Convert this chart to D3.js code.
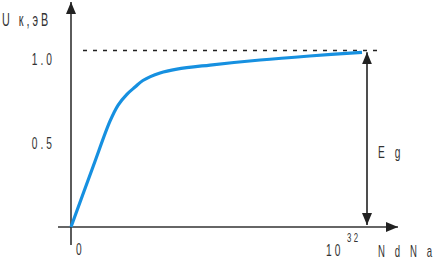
<!DOCTYPE html>
<html lang="ru">
<head>
<meta charset="UTF-8" />
<title>U к(N)</title>
<script src="https://d3js.org/d3.v7.min.js"></script>
<style>
  body { margin: 0; background: #fff; }
  svg text { font-family: "Liberation Sans", Arial, sans-serif; fill: #333; }
</style>
</head>
<body>
<svg id="chart" width="435" height="261"></svg>
<script>
// doping level, in units of 10^32
let dopingN = [0, 0.076, 0.134, 0.162, 0.192, 0.22, 0.247, 0.306, 0.364, 0.478, 0.65, 0.82, 1.0];
// contact potential, eV
let contactU = [0, 0.36, 0.63, 0.726, 0.79, 0.833, 0.872, 0.917, 0.94, 0.964, 0.994, 1.018, 1.04];
let yTicks = [0.5, 1.0];
let gapEg = 1.05;

let svg = d3.select("#chart");
let x0 = 71, y0 = 227;

let x = d3.scaleLinear().domain([0, 1]).range([x0, 362]);
let y = d3.scaleLinear().domain([0, 1]).range([y0, 59]);

let defs = svg.append("defs");
defs.append("marker")
  .attr("id", "head")
  .attr("viewBox", "0 0 12 10")
  .attr("refX", 12).attr("refY", 5)
  .attr("markerWidth", 12).attr("markerHeight", 10)
  .attr("markerUnits", "userSpaceOnUse")
  .attr("orient", "auto-start-reverse")
  .append("path")
  .attr("d", "M0,0 L12,5 L0,10 Z")
  .attr("fill", "#222");

// axes
svg.append("line")
  .attr("x1", 58).attr("y1", y0).attr("x2", 398).attr("y2", y0)
  .attr("stroke", "#333").attr("stroke-width", 1.6)
  .attr("marker-end", "url(#head)");
svg.append("line")
  .attr("x1", x0).attr("y1", 245).attr("x2", x0).attr("y2", 2)
  .attr("stroke", "#333").attr("stroke-width", 1.6)
  .attr("marker-end", "url(#head)");

// narrow, spaced text like the original figure
function label(t, px, py, size, anchor) {
  return svg.append("text")
    .attr("transform", "translate(" + px + "," + py + ") scale(0.6,1)")
    .attr("font-size", size)
    .attr("letter-spacing", 5)
    .attr("text-anchor", anchor || "start")
    .text(t);
}

// y tick labels
yTicks.forEach(function(v) {
  label(d3.format(".1f")(v), 55, y(v) + 6, 17, "end");
});

// Eg dotted line
svg.append("line")
  .attr("x1", 83).attr("x2", 380)
  .attr("y1", y(gapEg)).attr("y2", y(gapEg))
  .attr("stroke", "#222").attr("stroke-width", 1.5)
  .attr("stroke-dasharray", "4,6");

// Eg double arrow
svg.append("line")
  .attr("x1", 367).attr("x2", 367)
  .attr("y1", y(contactU[contactU.length - 1])).attr("y2", y0 - 2)
  .attr("stroke", "#222").attr("stroke-width", 1.6)
  .attr("marker-start", "url(#head)")
  .attr("marker-end", "url(#head)");

// curve
let line = d3.line()
  .x(function(d, i) { return x(dopingN[i]); })
  .y(function(d) { return y(d); })
  .curve(d3.curveCatmullRom.alpha(0.5));
svg.append("path")
  .datum(contactU)
  .attr("d", line)
  .attr("fill", "none")
  .attr("stroke", "#1690e0")
  .attr("stroke-width", 3.2);

// labels
label("U  к,эВ", 2, 26, 18);
label("0", 76, 255, 17);
label("10", 326, 256, 17);
label("32", 347, 242, 13).attr("letter-spacing", 4);
label("N d N a", 378, 257, 16).attr("letter-spacing", 6);
label("E g", 378, 158, 17).attr("letter-spacing", 6);
</script>
</body>
</html>
